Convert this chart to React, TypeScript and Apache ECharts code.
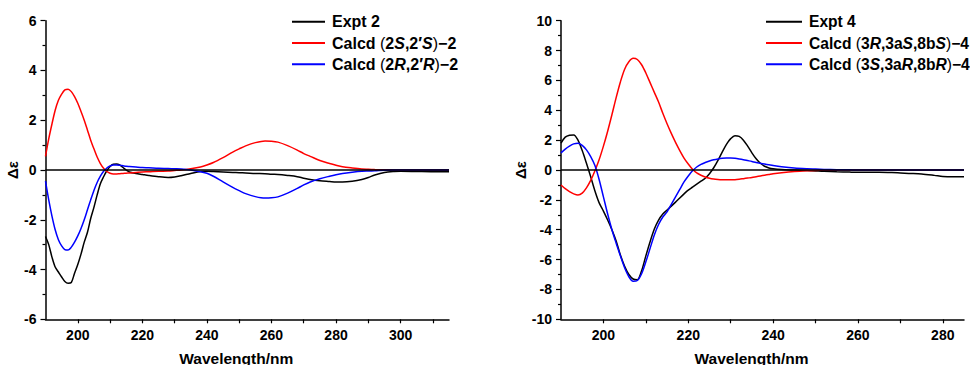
import React, { useEffect, useRef } from "react";
import * as echarts from "echarts";

// ---------- Left panel (compound 2) ----------
const wl2 = [190,191,192,193,194,195,196,197,198,199,200,201,202,203,204,205,206,207,208,209,210,211,212,213,214,215,216,218,220,222,225,228,230,232,235,238,240,242,245,248,250,252,255,258,260,262,265,268,270,272,275,278,280,282,285,288,290,292,295,298,300,305,310,315];
const expt2 = [-2.67,-3.0,-3.5,-3.9,-4.1,-4.3,-4.48,-4.55,-4.52,-4.15,-3.8,-3.38,-2.9,-2.5,-1.95,-1.5,-1.0,-0.55,-0.27,-0.03,0.14,0.23,0.24,0.2,0.1,0.0,-0.08,-0.14,-0.18,-0.22,-0.27,-0.3,-0.28,-0.23,-0.14,-0.06,-0.05,-0.06,-0.08,-0.1,-0.11,-0.12,-0.14,-0.15,-0.17,-0.18,-0.22,-0.27,-0.33,-0.38,-0.43,-0.46,-0.48,-0.48,-0.45,-0.38,-0.3,-0.2,-0.1,-0.06,-0.05,-0.06,-0.07,-0.07];
const calcdSS2 = [0.55,1.25,1.85,2.4,2.8,3.05,3.22,3.25,3.15,2.95,2.68,2.35,2.0,1.6,1.2,0.85,0.52,0.26,0.07,-0.06,-0.13,-0.16,-0.16,-0.15,-0.14,-0.13,-0.12,-0.1,-0.08,-0.07,-0.05,-0.04,-0.02,0.0,0.05,0.12,0.2,0.3,0.5,0.72,0.85,0.97,1.1,1.17,1.16,1.12,0.98,0.8,0.66,0.55,0.38,0.26,0.19,0.13,0.08,0.04,0.03,0.02,0.01,0,0,0,0,0];
const calcdRR2 = [-0.45,-1.2,-1.85,-2.4,-2.8,-3.05,-3.2,-3.22,-3.1,-2.9,-2.65,-2.35,-2.0,-1.6,-1.2,-0.82,-0.5,-0.25,-0.05,0.08,0.16,0.2,0.2,0.19,0.17,0.15,0.14,0.12,0.1,0.09,0.07,0.06,0.05,0.04,0.0,-0.07,-0.13,-0.25,-0.48,-0.7,-0.83,-0.95,-1.07,-1.13,-1.12,-1.08,-0.93,-0.74,-0.6,-0.48,-0.35,-0.25,-0.19,-0.14,-0.09,-0.05,-0.04,-0.03,-0.01,0,0,0,0,0];
const xTicks2 = [200,210,220,230,240,250,260,270,280,290,300,310];
const xLabels2 = [200,220,240,260,280,300];

// ---------- Right panel (compound 4) ----------
const wl4 = [190,191,192,193,194,195,196,197,198,199,200,201,202,203,204,205,206,207,208,209,210,211,212,213,214,215,216,217,218,219,220,221,222,223,224,225,226,227,228,229,230,231,232,233,234,235,236,237,238,239,240,242,245,248,250,252,255,258,260,262,265,268,270,272,275,278,280,282,285];
const expt4 = [1.8,2.2,2.33,2.35,2.0,1.3,0.45,-0.45,-1.4,-2.2,-2.75,-3.35,-4.0,-4.75,-5.7,-6.45,-7.0,-7.3,-7.35,-6.75,-5.75,-4.8,-3.95,-3.35,-2.95,-2.68,-2.42,-2.15,-1.87,-1.6,-1.35,-1.15,-0.95,-0.75,-0.55,-0.25,0.15,0.65,1.2,1.72,2.1,2.3,2.25,2.0,1.6,1.15,0.75,0.45,0.25,0.14,0.08,0.03,0.0,-0.03,-0.06,-0.09,-0.12,-0.14,-0.15,-0.15,-0.15,-0.17,-0.2,-0.23,-0.27,-0.36,-0.43,-0.46,-0.45];
const calcdRSS4 = [-1.0,-1.25,-1.45,-1.6,-1.68,-1.55,-1.2,-0.7,-0.05,0.7,1.6,2.6,3.7,4.85,5.9,6.75,7.25,7.48,7.4,7.05,6.5,5.85,5.2,4.55,3.8,3.1,2.45,1.85,1.3,0.8,0.4,0.05,-0.2,-0.35,-0.47,-0.55,-0.6,-0.63,-0.65,-0.66,-0.66,-0.65,-0.62,-0.58,-0.54,-0.5,-0.45,-0.4,-0.35,-0.3,-0.25,-0.18,-0.1,-0.05,-0.03,-0.02,-0.01,0,0,0,0,0,0,0,0,0,0,0,0];
const calcdSRR4 = [1.15,1.4,1.6,1.75,1.8,1.65,1.35,0.9,0.3,-0.65,-1.8,-2.95,-4.0,-4.9,-5.75,-6.55,-7.15,-7.45,-7.4,-6.95,-6.15,-5.25,-4.35,-3.65,-3.15,-2.8,-2.3,-1.8,-1.3,-0.8,-0.4,-0.05,0.2,0.38,0.5,0.6,0.68,0.74,0.78,0.8,0.8,0.78,0.74,0.69,0.63,0.57,0.5,0.45,0.4,0.35,0.3,0.22,0.13,0.08,0.06,0.04,0.02,0.01,0,0,0,0,0,0,0,0,0,0,0];
const xTicks4 = [200,210,220,230,240,250,260,270,280];
const xLabels4 = [200,220,240,260,280];

const names2 = ["Expt 2", "Calcd (2S,2′S)−2", "Calcd (2R,2′R)−2"];
const names4 = ["Expt 4", "Calcd (3R,3aS,8bS)−4", "Calcd (3S,3aR,8bR)−4"];

const richNames: Record<string, string> = {
  "Expt 2": "{b|Expt 2}",
  "Calcd (2S,2′S)−2": "{b|Calcd }{p|(}{b|2}{i|S}{b|,2′}{i|S}{p|)}{b|−2}",
  "Calcd (2R,2′R)−2": "{b|Calcd }{p|(}{b|2}{i|R}{b|,2′}{i|R}{p|)}{b|−2}",
  "Expt 4": "{b|Expt 4}",
  "Calcd (3R,3aS,8bS)−4": "{b|Calcd }{p|(}{b|3}{i|R}{b|,3a}{i|S}{b|,8b}{i|S}{p|)}{b|−4}",
  "Calcd (3S,3aR,8bR)−4": "{b|Calcd }{p|(}{b|3}{i|S}{b|,3a}{i|R}{b|,8b}{i|R}{p|)}{b|−4}",
};

const FONT = "Liberation Sans, Arial, sans-serif";
const COLORS = ["#000000", "#ff0000", "#0000ff"];

const zip = (xs: number[], ys: number[]) => xs.map((x, i) => [x, ys[i]]);

function makeX(gridIndex: number, max: number, ticks: number[], labels: number[]) {
  return {
    type: "value",
    gridIndex,
    min: 190,
    max,
    axisLine: { show: true, onZero: false, lineStyle: { color: "#000", width: 1.5 } },
    axisTick: { show: true, length: 4, customValues: ticks, lineStyle: { color: "#000", width: 1.2 } },
    axisLabel: {
      customValues: labels,
      color: "#000",
      fontFamily: FONT,
      fontWeight: "bold",
      fontSize: 14,
      margin: 9,
    },
    splitLine: { show: false },
    name: "Wavelength/nm",
    nameLocation: "middle",
    nameGap: 31,
    nameTextStyle: {
      color: "#000",
      fontFamily: FONT,
      fontWeight: "bold",
      fontSize: 15.5,
      padding: [0, 22, 0, 0],
    },
  };
}

function makeY(gridIndex: number, lim: number, nameGap: number) {
  return {
    type: "value",
    gridIndex,
    min: -lim,
    max: lim,
    interval: 2,
    axisLine: { show: true, onZero: false, lineStyle: { color: "#000", width: 1.5 } },
    axisTick: { show: true, length: 5, lineStyle: { color: "#000", width: 1.2 } },
    minorTick: { show: true, splitNumber: 2, length: 3, lineStyle: { color: "#000", width: 1.2 } },
    axisLabel: { color: "#000", fontFamily: FONT, fontWeight: "bold", fontSize: 14, margin: 9 },
    splitLine: { show: false },
    minorSplitLine: { show: false },
    name: "Δε",
    nameLocation: "middle",
    nameGap,
    nameTextStyle: { color: "#000", fontFamily: FONT, fontWeight: "bold", fontSize: 15 },
  };
}

function makeSeries(name: string, idx: number, xs: number[], ys: number[], color: string, withZero: boolean) {
  const s: any = {
    type: "line",
    name,
    xAxisIndex: idx,
    yAxisIndex: idx,
    data: zip(xs, ys),
    showSymbol: false,
    symbol: "none",
    smooth: 0.3,
    lineStyle: { color, width: 1.5 },
    itemStyle: { color },
    silent: true,
  };
  if (withZero) {
    s.markLine = {
      silent: true,
      symbol: ["none", "none"],
      label: { show: false },
      lineStyle: { color: "#000", width: 1.5, type: "solid" },
      data: [{ yAxis: 0 }],
    };
  }
  return s;
}

function makeRich(size: number) {
  return {
    b: { fontFamily: FONT, fontWeight: "bold", fontSize: size, color: "#000", lineHeight: 16 },
    i: { fontFamily: FONT, fontWeight: "bold", fontStyle: "italic", fontSize: size, color: "#000", lineHeight: 16 },
    p: { fontFamily: FONT, fontWeight: "normal", fontSize: size, color: "#000", lineHeight: 16 },
  };
}

function makeLegend(names: string[], left: number, iconW: number, size: number) {
  return {
    data: names,
    orient: "vertical",
    left,
    top: 13.7,
    itemWidth: iconW,
    itemHeight: 2,
    itemGap: 5.3,
    icon: "rect",
    padding: 0,
    selectedMode: false,
    formatter: (n: string) => richNames[n] || n,
    textStyle: { rich: makeRich(size), padding: [0, 0, 0, 2] },
  };
}

export default function App() {
  const ref = useRef<HTMLDivElement>(null);
  useEffect(() => {
    document.body.style.margin = "0";
    if (!ref.current) return;
    const chart = echarts.init(ref.current, null, { renderer: "svg" });
    chart.setOption({
      animation: false,
      backgroundColor: "#fff",
      grid: [
        { left: 45.5, top: 20.7, width: 403.5, height: 298.6, containLabel: false, outerBoundsMode: "none" },
        { left: 561, top: 20.7, width: 403, height: 298.6, containLabel: false, outerBoundsMode: "none" },
      ],
      xAxis: [makeX(0, 315, xTicks2, xLabels2), makeX(1, 285, xTicks4, xLabels4)],
      yAxis: [makeY(0, 6, 14), makeY(1, 10, 21)],
      legend: [makeLegend(names2, 292, 33, 16), makeLegend(names4, 766, 36, 15.6)],
      series: [
        makeSeries(names2[0], 0, wl2, expt2, COLORS[0], true),
        makeSeries(names2[1], 0, wl2, calcdSS2, COLORS[1], false),
        makeSeries(names2[2], 0, wl2, calcdRR2, COLORS[2], false),
        makeSeries(names4[0], 1, wl4, expt4, COLORS[0], true),
        makeSeries(names4[1], 1, wl4, calcdRSS4, COLORS[1], false),
        makeSeries(names4[2], 1, wl4, calcdSRR4, COLORS[2], false),
      ],
    });
    return () => chart.dispose();
  }, []);
  return <div ref={ref} style={{ width: 970, height: 365 }} />;
}
